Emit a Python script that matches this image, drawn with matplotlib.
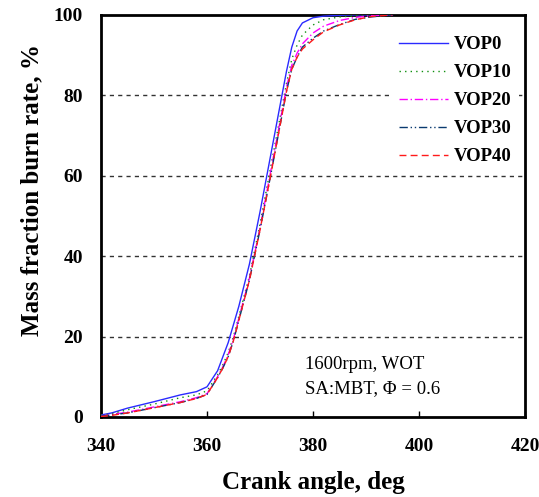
import numpy as np
import matplotlib.pyplot as plt

# crank angle (deg) and mass fraction burned (%)
angle = [340, 342, 345, 350, 355, 358, 360, 362, 363, 364, 365, 366, 368, 370,
         372, 374, 375, 376, 377, 378, 380, 382, 385, 388, 391, 395]

vop0 = [0.5, 1.0, 2.2, 3.8, 5.5, 6.3, 7.5, 11.5, 15.0, 18.5, 23.0, 27.5, 38.0, 51.0,
        65.0, 79.0, 86.0, 92.0, 96.0, 98.0, 99.3, 99.7, 99.9, 100.0, 100.0, 100.0]
vop10 = [0.4, 0.8, 1.8, 3.2, 4.8, 5.5, 6.5, 10.5, 13.0, 16.0, 20.0, 25.0, 35.0, 48.0,
         62.0, 76.0, 83.0, 89.0, 92.5, 95.0, 97.5, 98.8, 99.5, 99.8, 100.0, 100.0]
vop20 = [0.2, 0.6, 1.2, 2.5, 3.8, 4.8, 5.8, 10.0, 12.5, 15.5, 19.5, 24.5, 34.5, 47.0,
         61.0, 75.0, 82.0, 87.5, 90.5, 92.8, 95.5, 97.2, 98.6, 99.4, 99.8, 100.0]
vop30 = [0.2, 0.5, 1.0, 2.3, 3.6, 4.6, 5.6, 9.8, 12.2, 15.0, 19.0, 24.0, 34.0, 46.5,
         60.0, 74.0, 81.0, 86.5, 89.5, 92.0, 94.2, 96.0, 97.6, 98.9, 99.5, 100.0]
vop40 = [0.1, 0.4, 1.0, 2.3, 3.6, 4.6, 5.6, 9.8, 12.2, 15.0, 19.0, 24.0, 34.0, 46.5,
         60.0, 74.0, 81.0, 86.5, 89.5, 91.5, 93.8, 95.8, 97.5, 98.8, 99.6, 100.0]

labels = ['VOP0', 'VOP10', 'VOP20', 'VOP30', 'VOP40']
series = [vop0, vop10, vop20, vop30, vop40]
colors = ['#2a2aff', '#109010', '#ff00ff', '#0a3a70', '#ff1a1a']
styles = ['-', (0, (1, 3)), (0, (6, 2, 1, 2)), (0, (6, 2, 1, 2, 1, 2)), (0, (5, 3))]

xticks = [340, 360, 380, 400, 420]
yticks = [0, 20, 40, 60, 80, 100]

serif = ['Liberation Serif', 'DejaVu Serif']
plt.rcParams['font.family'] = serif

fig = plt.figure(figsize=(5.39, 4.97), dpi=100)
ax = fig.add_axes([0.1874, 0.161, 0.7866, 0.809])

for y in [20, 40, 60, 80]:
    ax.axhline(y, color='#333333', lw=1.0, ls=(0, (3, 3)), zorder=1)

for lab, vals, col, ls in zip(labels, series, colors, styles):
    ax.plot(angle, vals, color=col, ls=ls, lw=1.0, label=lab, zorder=3)

ax.set_xlim(340, 420)
ax.set_ylim(0, 100)
ax.set_xticks(xticks)
ax.set_yticks(yticks)
ax.tick_params(axis='x', direction='in', length=4, width=1, pad=15, labelsize=14)
ax.tick_params(axis='y', length=0, pad=13, labelsize=14)
for t in ax.get_xticklabels() + ax.get_yticklabels():
    t.set_fontweight('bold')
for s in ax.spines.values():
    s.set_linewidth(2)

ax.set_xlabel('Crank angle, deg', fontsize=18, fontweight='bold', labelpad=12)
ax.set_ylabel('Mass fraction burn rate, %', fontsize=18, fontweight='bold')
ax.yaxis.set_label_coords(-0.135, 0.565)

leg = ax.legend(loc='upper right', bbox_to_anchor=(1.0, 0.98), frameon=True,
                edgecolor='none', facecolor='white', framealpha=1, fontsize=13.5,
                handlelength=2.6, handletextpad=0.35, labelspacing=0.58,
                borderaxespad=0.3)
for t in leg.get_texts():
    t.set_fontweight('bold')

ax.text(0.48, 0.12, '1600rpm, WOT', transform=ax.transAxes, fontsize=13.5)
ax.text(0.48, 0.06, 'SA:MBT, \u03a6 = 0.6', transform=ax.transAxes, fontsize=13.5)

fig.savefig('out.png', dpi=100)
